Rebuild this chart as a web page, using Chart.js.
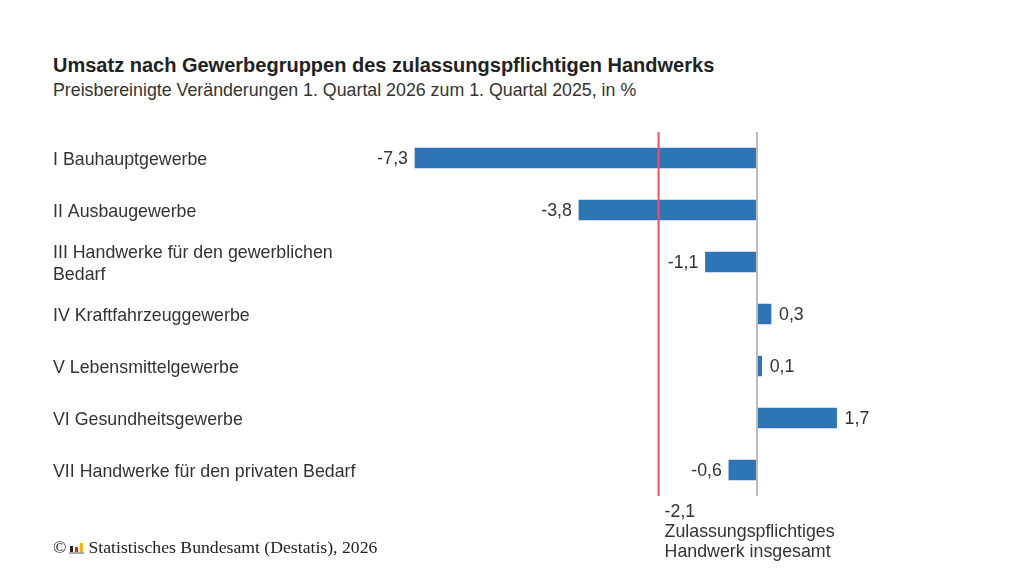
<!DOCTYPE html>
<html lang="de">
<head>
<meta charset="utf-8">
<script src="https://cdn.jsdelivr.net/npm/chart.js@4"></script>
<style>
  body { margin: 0; background: #fff; }
  #wrap { position: relative; width: 1024px; height: 576px; overflow: hidden; font-family: "Liberation Sans", Arial, sans-serif; color: #222; }
  #title { position: absolute; left: 53px; top: 54px; font-size: 20px; font-weight: bold; white-space: nowrap; }
  #subtitle { position: absolute; left: 53px; top: 80px; font-size: 17.8px; color: #333; white-space: nowrap; }
  #source { position: absolute; left: 53px; top: 537px; font-family: "Liberation Serif", "Times New Roman", serif; font-size: 17.7px; color: #222; white-space: nowrap; }
  #logo { display: inline-block; position: relative; width: 15px; height: 12px; margin: 0 4px 0 3px; vertical-align: -1px; }
  #logo span { position: absolute; bottom: 2px; width: 3px; }
  #chart { position: absolute; left: 0; top: 0; }
</style>
</head>
<body>
<div id="wrap">
  <div id="title">Umsatz nach Gewerbegruppen des zulassungspflichtigen Handwerks</div>
  <div id="subtitle">Preisbereinigte Veränderungen 1. Quartal 2026 zum 1. Quartal 2025, in %</div>
  <canvas id="chart" width="1024" height="576"></canvas>
  <div id="source">©<span id="logo"><span style="left:1px;height:6px;background:#222"></span><span style="left:6px;height:5px;background:#e2231a"></span><span style="left:11px;height:9px;background:#f2b600"></span><span style="left:0;bottom:0;width:15px;height:2px;background:#aaa"></span></span>Statistisches Bundesamt (Destatis), 2026</div>
</div>
<script>
// Gewerbegruppen und Veränderung in %
const categories = [
  'I Bauhauptgewerbe',
  'II Ausbaugewerbe',
  ['III Handwerke für den gewerblichen', 'Bedarf'],
  'IV Kraftfahrzeuggewerbe',
  'V Lebensmittelgewerbe',
  'VI Gesundheitsgewerbe',
  'VII Handwerke für den privaten Bedarf'
];
const values = [-7.3, -3.8, -1.1, 0.3, 0.1, 1.7, -0.6];

// Handwerk insgesamt (rote Linie)
const totalValue = -2.1;
const totalLabel = ['Zulassungspflichtiges', 'Handwerk insgesamt'];

const fmt = v => v.toFixed(1).replace('.', ',');

const textColor = '#333';
const font = '17.8px "Liberation Sans", Arial, sans-serif';

const extras = {
  id: 'extras',
  afterDatasetsDraw(chart) {
    const ctx = chart.ctx;
    const x = chart.scales.x;
    const area = chart.chartArea;
    const meta = chart.getDatasetMeta(0);
    ctx.save();

    // Nulllinie
    const x0 = x.getPixelForValue(0);
    ctx.strokeStyle = '#bbbbbb';
    ctx.lineWidth = 2;
    ctx.beginPath();
    ctx.moveTo(x0, area.top);
    ctx.lineTo(x0, area.bottom);
    ctx.stroke();

    // Insgesamt
    const xt = x.getPixelForValue(totalValue);
    ctx.strokeStyle = '#f4505c';
    ctx.beginPath();
    ctx.moveTo(xt, area.top);
    ctx.lineTo(xt, area.bottom);
    ctx.stroke();

    ctx.font = font;
    ctx.fillStyle = textColor;
    ctx.textBaseline = 'middle';

    // Wertelabels
    meta.data.forEach((bar, i) => {
      const v = values[i];
      if (v < 0) {
        ctx.textAlign = 'right';
        ctx.fillText(fmt(v), bar.x - 7, bar.y + 1.5);
      } else {
        ctx.textAlign = 'left';
        ctx.fillText(fmt(v), bar.x + 8, bar.y + 1.5);
      }
    });

    ctx.textAlign = 'left';
    ctx.textBaseline = 'alphabetic';
    ctx.fillText(fmt(totalValue), xt + 6, area.bottom + 21);
    totalLabel.forEach((t, i) => {
      ctx.fillText(t, xt + 6, area.bottom + 41 + i * 20);
    });
    ctx.restore();
  }
};

new Chart(document.getElementById('chart'), {
  type: 'bar',
  data: {
    labels: categories,
    datasets: [{
      data: values,
      backgroundColor: '#2e75b6',
      barThickness: 20
    }]
  },
  options: {
    indexAxis: 'y',
    responsive: false,
    animation: false,
    layout: {
      padding: { left: 53, top: 132, bottom: 80, right: 126.5 }
    },
    scales: {
      x: {
        display: false,
        min: -8,
        max: 3
      },
      y: {
        grid: { display: false },
        border: { display: false },
        ticks: {
          crossAlign: 'far',
          color: textColor,
          labelOffset: 2,
          font: { family: '"Liberation Sans", Arial, sans-serif', size: 17.8, lineHeight: 1.2 },
          padding: 0
        },
        afterFit(scale) { scale.width = 329.2; }
      }
    },
    plugins: {
      legend: { display: false },
      tooltip: { enabled: false }
    }
  },
  plugins: [extras]
});
</script>
</body>
</html>
